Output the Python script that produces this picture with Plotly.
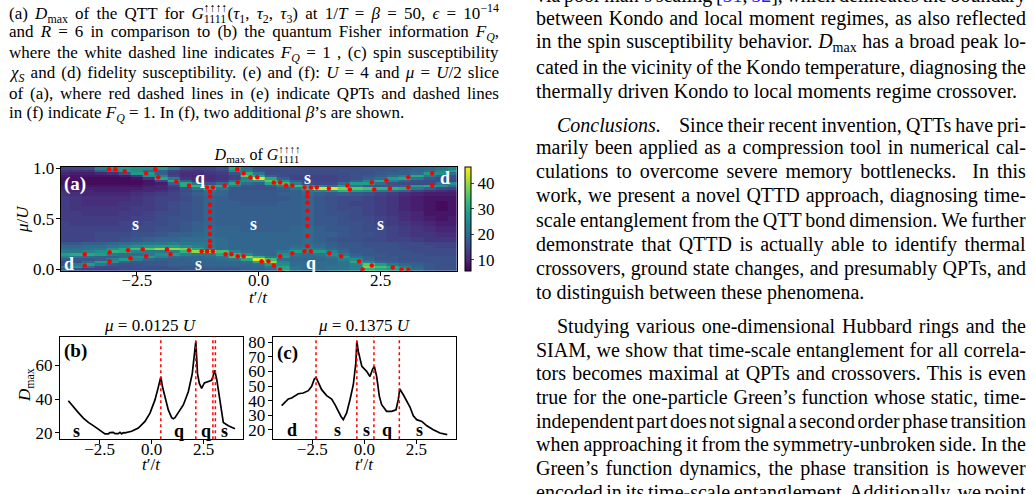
import json
import plotly.graph_objects as go

W, H = 1034, 494
SERIF = "Liberation Serif, Times New Roman, serif"

# ---------------- data: heatmap (a) ----------------
t_grid = [-4.0, -3.75, -3.5, -3.25, -3.0, -2.75, -2.5, -2.25, -2.0, -1.75, -1.5, -1.25, -1.0, -0.75, -0.5, -0.25,
          0.0, 0.25, 0.5, 0.75, 1.0, 1.25, 1.5, 1.75, 2.0, 2.25, 2.5, 2.75, 3.0, 3.25, 3.5, 3.75, 4.0]
mu_grid = [0.0, 0.025, 0.05, 0.075, 0.1, 0.125, 0.15, 0.175, 0.2, 0.225, 0.25,
           0.3, 0.35, 0.4, 0.45, 0.5, 0.55, 0.6, 0.65, 0.7,
           0.75, 0.775, 0.8, 0.825, 0.85, 0.875, 0.9, 0.925, 0.95, 0.975, 1.0]
# D_max rows listed from the top (mu = 1.0) down to mu = 0.0
z_rows_top_down = [
    [14,14,15,24,28,28,26,26,28,22,15,14,14,16,30,20,15,15,15,15,15,15,15,15,15,16,16,17,17,18,19,21,24],  # 1.000
    [12,11,11,18,22,28,26,20,18,14,12,12,13,14,26,22,16,15,15,15,15,15,15,16,16,16,17,17,18,19,20,24,28],  # 0.975
    [10,9,9,10,11,16,28,28,18,13,11,11,12,13,16,32,22,15,15,15,15,15,15,15,16,16,17,18,18,20,28,26,20],    # 0.950
    [9,8,8,8,8,9,12,26,24,14,11,10,11,12,14,36,30,18,15,14,14,14,14,15,16,17,18,20,24,30,22,18,16],        # 0.925
    [8,8,7,7,7,7,8,12,30,22,12,11,11,12,14,24,45,30,18,14,14,14,14,15,16,18,20,28,30,22,17,15,15],         # 0.900
    [8,7,7,7,7,7,7,8,14,30,18,12,12,13,20,26,28,36,26,18,15,14,14,15,18,24,30,24,18,16,15,15,14],          # 0.875
    [8,7,7,7,7,7,7,8,9,18,30,22,16,20,30,20,18,30,34,24,16,15,15,20,28,28,20,16,15,15,15,22,26],           # 0.850
    [9,8,8,8,8,8,8,9,10,14,30,32,30,30,22,17,16,18,24,33,30,24,20,28,22,18,17,17,18,28,30,26,20],          # 0.825
    [10,9,9,9,9,9,9,10,10,12,16,22,32,22,17,16,16,16,18,22,32,44,45,38,36,34,32,32,30,22,18,15,14],        # 0.800
    [11,10,10,9,9,9,10,10,11,13,15,17,22,19,17,17,17,17,17,18,22,24,26,32,28,26,22,20,18,14,12,11,10],     # 0.775
    [12,11,10,10,10,10,11,12,13,14,16,18,20,19,17,17,17,17,18,18,20,18,17,18,17,16,14,13,11,10,9,9,9],     # 0.750
    [13,12,11,11,11,11,12,13,14,14,15,17,19,18,17,17,17,17,17,18,19,17,16,15,15,14,13,12,10,9,8,8,8],      # 0.70
    [13,12,11,11,11,12,12,13,14,15,16,17,19,18,18,17,17,17,18,18,19,17,16,15,14,14,13,12,10,9,8,7,8],      # 0.65
    [13,12,12,12,12,12,13,13,14,15,16,17,19,18,18,18,18,18,18,18,19,17,16,15,15,14,13,12,10,9,8,7,8],      # 0.60
    [13,13,12,12,12,13,13,14,15,15,16,17,19,18,18,18,18,18,18,18,19,17,16,16,15,14,13,12,11,10,8,8,8],     # 0.55
    [13,13,13,13,13,13,14,14,15,16,16,17,19,18,18,18,18,18,18,18,19,17,17,16,15,15,14,13,11,10,9,8,9],     # 0.50
    [14,13,13,13,13,14,14,15,15,16,17,18,19,18,18,18,18,18,18,18,19,17,17,16,16,15,14,13,12,11,10,9,9],    # 0.45
    [14,14,14,14,14,14,15,15,16,16,17,18,20,19,19,18,18,18,18,19,20,18,17,17,16,15,15,14,13,12,11,10,10],  # 0.40
    [14,14,14,15,15,15,16,16,17,18,18,19,20,19,19,19,19,19,19,19,20,18,18,17,16,16,15,14,13,12,12,11,11],  # 0.35
    [14,14,14,15,15,16,17,18,19,19,20,20,21,20,19,19,19,19,19,19,20,18,17,16,16,15,15,14,14,13,12,12,12],  # 0.30
    [17,17,18,18,19,20,21,22,22,23,22,22,22,20,19,19,19,19,19,19,20,19,18,17,17,16,16,16,15,15,14,14,14],  # 0.250
    [19,19,20,20,22,24,26,27,28,28,26,24,22,20,19,19,19,19,19,20,21,20,18,17,17,16,16,16,15,15,15,14,14],  # 0.225
    [20,20,21,22,26,30,34,36,40,40,38,30,24,20,19,19,19,19,19,22,24,22,19,18,17,17,16,16,15,15,15,15,15],  # 0.200
    [22,22,24,26,32,30,24,22,22,24,32,40,40,34,24,20,19,19,22,28,27,28,24,19,17,17,16,16,16,15,15,15,15],  # 0.175
    [28,30,30,28,22,20,20,22,26,28,24,22,22,30,32,26,20,19,26,22,20,21,26,22,18,17,17,16,16,16,15,15,15],  # 0.150
    [24,22,20,18,18,20,26,28,24,20,19,19,20,22,34,40,32,22,28,20,20,20,22,28,20,18,17,17,16,16,16,16,16],  # 0.125
    [18,17,17,18,24,28,24,19,18,18,18,19,19,20,22,30,45,34,20,19,19,19,20,24,26,19,17,17,16,16,16,16,16],  # 0.100
    [15,16,20,28,26,19,17,17,17,18,18,19,19,19,19,20,30,40,24,20,20,20,20,21,30,24,19,18,17,17,16,16,16],  # 0.075
    [16,22,28,22,17,16,16,17,17,18,18,18,19,19,19,19,20,28,26,20,20,20,20,21,24,36,28,22,19,18,17,16,16],  # 0.050
    [24,26,20,15,15,15,16,16,16,17,17,17,18,18,18,18,19,22,30,21,20,20,21,21,24,38,34,30,24,19,17,16,16],  # 0.025
    [18,16,14,14,14,15,15,16,16,16,17,17,17,17,17,18,18,20,30,22,20,20,21,22,24,32,30,28,28,20,17,16,16],  # 0.000
]
z_grid = z_rows_top_down[::-1]

# transition points (red dots) in (a)
dots_t = [-3.07,-2.94,-2.75,-2.31,-2.12,-2.06,-1.69,-1.43,-1.06,-0.94,-0.70,-0.44,-0.43,-0.31,-0.17,-0.03,
          0.31,0.44,0.56,0.69,0.94,1.07,1.19,1.44,1.82,1.87,2.32,2.37,2.62,2.69,3.07,3.07,3.56,3.56,
          -3.57,-3.57,-3.06,-3.06,-2.68,-2.63,-2.38,-2.31,-1.88,-1.81,-1.43,-1.17,-1.06,-0.94,-0.68,-0.56,-0.43,-0.31,
          0.06,0.20,0.31,0.44,0.44,0.69,0.94,1.07,1.45,1.69,2.06,2.13,2.32,2.75,2.93,3.07,
          -1.0,-1.0,-1.0,-1.0,-1.0,-1.0,-1.0,-1.0,-1.0,
          1.0,1.0,1.0,1.0,1.0,1.0,1.0,1.0]
dots_mu = [0.99,0.99,0.97,0.95,0.99,0.91,0.87,0.83,0.81,0.81,0.83,0.99,0.86,0.95,0.91,0.91,
           0.86,0.86,0.83,0.83,0.81,0.81,0.81,0.80,0.83,0.79,0.86,0.79,0.88,0.80,0.91,0.81,0.95,0.83,
           0.15,0.04,0.17,0.08,0.19,0.11,0.20,0.13,0.20,0.15,0.19,0.18,0.18,0.18,0.15,0.15,0.13,0.13,
           0.08,0.08,0.04,0.00,0.13,0.16,0.18,0.18,0.16,0.13,0.08,0.00,0.04,0.02,0.00,0.00,
           0.23,0.28,0.35,0.42,0.50,0.57,0.64,0.72,0.77,
           0.23,0.33,0.43,0.50,0.58,0.66,0.72,0.76]

# ---------------- data: slice (b) mu = 0.0125U ----------------
t_b = [-4.0,-3.84,-3.68,-3.52,-3.28,-3.04,-2.80,-2.56,-2.40,-2.24,-2.08,-2.00,-1.84,-1.76,-1.60,-1.52,-1.44,
       -1.36,-1.28,-1.20,-0.96,-0.64,-0.32,-0.08,0.16,0.32,0.44,0.52,0.64,0.80,0.96,1.04,1.12,1.28,1.52,
       1.76,1.95,2.12,2.20,2.29,2.40,2.53,2.72,2.88,2.96,3.02,3.12,3.28,3.44,3.68,4.00]
D_b = [39,36.5,34.6,32,28.8,26.2,24.3,22.3,20.5,19.4,19.5,20.2,20.3,19.6,19.6,20.4,19.5,
       20.2,20,20.2,21,22.9,26.8,31.7,39.5,47,53,47.2,41.4,33.6,29,28.4,29,31.7,36.5,
       44.3,55,74,55,49.2,46.3,49.5,50.2,51,54,57,52,37.5,26.2,24.3,22.5]
qpt_b = [0.44, 2.12, 2.94, 3.06]
labels_b = ["s", "q", "q", "s"]
labels_b_t = [-3.6, 1.31, 2.6, 3.52]

# ---------------- data: slice (c) mu = 0.1375U ----------------
t_c = [-3.97,-3.81,-3.65,-3.49,-3.33,-3.17,-2.93,-2.69,-2.53,-2.40,-2.32,-2.21,-2.05,-1.81,-1.57,-1.41,
       -1.25,-1.12,-1.01,-0.85,-0.69,-0.53,-0.41,-0.36,-0.29,-0.12,0.11,0.27,0.40,0.48,0.59,0.72,0.83,
       1.07,1.31,1.52,1.63,1.70,1.87,2.03,2.19,2.35,2.51,2.76,3.00,3.31,3.63,3.98]
D_c = [36.5,38.8,41.1,41.8,43.4,44.7,45.2,46.8,49.8,54.8,55.9,52.1,47.5,43.4,41.1,37.2,
       32.6,29.1,26.9,31.5,40.6,50.9,65.8,80.7,73.8,63.5,60.1,56.6,61.7,63.5,56.6,42.9,37.2,
       32.6,32.6,33.7,40.6,48,44,39.5,35.6,29.6,26.9,25.7,22.7,20,17.7,16.6]
qpt_c = [-2.32, -0.36, 0.46, 1.68]
labels_c = ["d", "s", "s", "q", "s"]
labels_c_t = [-3.49, -1.28, 0.08, 1.07, 2.64]

# ---------------- text ----------------
caption_lines = [
    "(a) <i>D</i><sub>max</sub> of the QTT for <i>G</i><sup>↑↑↑↑</sup><sub>1111</sub>(<i>τ</i><sub>1</sub>, <i>τ</i><sub>2</sub>, <i>τ</i><sub>3</sub>) at 1/<i>T</i> = <i>β</i> = 50, <i>ϵ</i> = 10<sup>−14</sup>",
    "and <i>R</i> = 6 in comparison to (b) the quantum Fisher information <i>F</i><sub><i>Q</i></sub>,",
    "where the white dashed line indicates <i>F</i><sub><i>Q</i></sub> = 1 , (c) spin susceptibility",
    "<i>χ</i><sub><i>S</i></sub> and (d) fidelity susceptibility. (e) and (f): <i>U</i> = 4 and <i>μ</i> = <i>U</i>/2 slice",
    "of (a), where red dashed lines in (e) indicate QPTs and dashed lines",
    "in (f) indicate <i>F</i><sub><i>Q</i></sub> = 1. In (f), two additional <i>β</i>’s are shown.",
]
caption_y = [13.5, 33.5, 53.5, 73.5, 93.5, 113.5]
caption_just = [True, True, True, True, True, False]

B = '<span style="color:#1a1aff">'
right_lines = [
    ("via poor man’s scaling [" + B + "51</span>, " + B + "52</span>], which delineates the boundary", -5, 535, True),
    ("between Kondo and local moment regimes, as also reflected", 19, 535, True),
    ("in the spin susceptibility behavior. <i>D</i><sub>max</sub> has a broad peak lo-", 43, 535, True),
    ("cated in the vicinity of the Kondo temperature, diagnosing the", 67, 535, True),
    ("thermally driven Kondo to local moments regime crossover.", 91, 535, False),
    ("Since their recent invention, QTTs have pri-", 125, 678, True),
    ("marily been applied as a compression tool in numerical cal-", 148, 535, True),
    ("culations to overcome severe memory bottlenecks.  In this", 172, 535, True),
    ("work, we present a novel QTTD approach, diagnosing time-", 196, 535, True),
    ("scale entanglement from the QTT bond dimension. We further", 220, 535, True),
    ("demonstrate that QTTD is actually able to identify thermal", 244, 535, True),
    ("crossovers, ground state changes, and presumably QPTs, and", 268, 535, True),
    ("to distinguish between these phenomena.", 292, 535, False),
    ("Studying various one-dimensional Hubbard rings and the", 326, 556, True),
    ("SIAM, we show that time-scale entanglement for all correla-", 350, 535, True),
    ("tors becomes maximal at QPTs and crossovers. This is even", 373, 535, True),
    ("true for the one-particle Green’s function whose static, time-", 397, 535, True),
    ("independent part does not signal a second order phase transition", 421, 535, True),
    ("when approaching it from the symmetry-unbroken side. In the", 444, 535, True),
    ("Green’s function dynamics, the phase transition is however", 468, 535, True),
    ("encoded in its time-scale entanglement. Additionally, we point", 492, 535, True),
]


def px(x):
    return x / W


def py(y):
    return 1 - y / H


fig = go.Figure()

cb_top, cb_bot = 167.0, 270.7
fig.add_trace(go.Heatmap(
    x=t_grid, y=mu_grid, z=z_grid, colorscale="Viridis", zmin=5.7, zmax=46.5,
    xaxis="x", yaxis="y",
    colorbar=dict(
        x=px(465), xanchor="left", xref="paper", thickness=5.5, thicknessmode="pixels",
        len=(cb_bot - cb_top) / H, lenmode="fraction", y=py((cb_top + cb_bot) / 2), yanchor="middle",
        xpad=0, ypad=0, outlinewidth=1, outlinecolor="black",
        tickvals=[10, 20, 30, 40], ticks="outside", ticklen=3, tickwidth=1,
        tickfont=dict(family=SERIF, size=17, color="black"),
    ),
    showscale=True,
))
fig.add_trace(go.Scatter(x=dots_t, y=dots_mu, mode="markers", xaxis="x", yaxis="y",
                         marker=dict(color="#ff0000", size=4.5), showlegend=False))
fig.add_trace(go.Scatter(x=t_b, y=D_b, mode="lines", xaxis="x2", yaxis="y2",
                         line=dict(color="black", width=1.7), showlegend=False))
fig.add_trace(go.Scatter(x=t_c, y=D_c, mode="lines", xaxis="x3", yaxis="y3",
                         line=dict(color="black", width=1.7), showlegend=False))

axis_common = dict(showline=True, mirror=True, linecolor="black", linewidth=1, ticks="outside",
                   ticklen=4, tickwidth=1, tickcolor="black", showgrid=False, zeroline=False,
                   tickfont=dict(family=SERIF, size=17, color="black"), automargin=False)
xstand = dict(ticklabelstandoff=-10)
ystand = dict(ticklabelstandoff=-1)
tv = [-2.5, 0, 2.5]
tt = ["−2.5", "0.0", "2.5"]
fig.update_layout(
    width=W, height=H, margin=dict(l=0, r=0, t=0, b=0),
    paper_bgcolor="white", plot_bgcolor="white", showlegend=False,
    xaxis=dict(domain=[px(60.7), px(456.7)], range=[-4.0625, 4.0625], tickvals=tv, ticktext=tt,
               anchor="y", **axis_common, **xstand),
    yaxis=dict(domain=[py(270.7), py(167.0)], range=[-0.0125, 1.0125], tickvals=[0, 0.5, 1],
               ticktext=["0.0", "0.5", "1.0"], anchor="x", **axis_common, ticklabelstandoff=-2),
    xaxis2=dict(domain=[px(60), px(243.3)], range=[-4.4, 4.4], tickvals=tv, ticktext=tt,
                anchor="y2", **axis_common, **xstand),
    yaxis2=dict(domain=[py(439.3), py(336.7)], range=[16.25, 76.75], tickvals=[20, 40, 60],
                anchor="x2", **axis_common, **ystand),
    xaxis3=dict(domain=[px(272.7), px(456)], range=[-4.4, 4.4], tickvals=tv, ticktext=tt,
                anchor="y3", **axis_common, **xstand),
    yaxis3=dict(domain=[py(439.3), py(336.7)], range=[13.4, 83.9], tickvals=[20, 30, 40, 50, 60, 70, 80],
                anchor="x3", **axis_common, **ystand),
)

shapes = []
for v in qpt_b:
    shapes.append(dict(type="line", xref="x2", yref="y2 domain", x0=v, x1=v, y0=0, y1=1,
                       line=dict(color="#ff0000", width=1.5, dash="dot")))
for v in qpt_c:
    shapes.append(dict(type="line", xref="x3", yref="y3 domain", x0=v, x1=v, y0=0, y1=1,
                       line=dict(color="#ff0000", width=1.5, dash="dot")))
fig.update_layout(shapes=shapes)

ann = []
justify = []


def text(x, y, s, size, anchor="left", color="black", angle=0, align="left", family=SERIF):
    ann.append(dict(xref="paper", yref="paper", x=px(x), y=py(y), text=s, showarrow=False,
                    xanchor=anchor, yanchor="middle", align=align, textangle=angle,
                    font=dict(family=family, size=size, color=color), borderpad=0))
    return len(ann) - 1


# caption (left column)
for s, y, j in zip(caption_lines, caption_y, caption_just):
    i = text(8, y, s, 17)
    if j:
        justify.append([i, 490])

# right column
text(556, 125, "<i>Conclusions.</i>", 20)
for s, y, x0, j in right_lines:
    i = text(x0, y, s, 20)
    if j:
        justify.append([i, 1025 - x0])

# panel (a) texts
text(257, 154, "<i>D</i><sub>max</sub> of <i>G</i><sup>↑↑↑↑</sup><sub>1111</sub>", 16, anchor="center", align="center")
text(258, 297, "<i>t</i>′/<i>t</i>", 17, anchor="center", align="center")
text(22, 219, "<i>μ</i>/<i>U</i>", 17, anchor="center", align="center", angle=-90)
text(63, 184, "<b>(a)</b>", 19, color="white")

# region labels inside heatmap (data coordinates)
reg_lab = ["q", "s", "d", "s", "s", "s", "d", "s", "q"]
reg_t = [-1.2, 1.01, 3.82, -2.52, -0.1, 2.5, -3.89, -1.24, 1.07]
reg_mu = [0.90, 0.90, 0.90, 0.45, 0.45, 0.45, 0.05, 0.05, 0.06]
for s, xx, yy in zip(reg_lab, reg_t, reg_mu):
    ann.append(dict(xref="x", yref="y", x=xx, y=yy, text="<b>" + s + "</b>", showarrow=False,
                    xanchor="center", yanchor="middle",
                    font=dict(family=SERIF, size=18, color="white")))

# panel (b)
text(150, 325, "<i>μ</i> = 0.0125 <i>U</i>", 17, anchor="center", align="center")
text(151, 464, "<i>t</i>′/<i>t</i>", 17, anchor="center", align="center")
text(26, 385, "<i>D</i><sub>max</sub>", 17, anchor="center", align="center", angle=-90)
text(63, 351, "<b>(b)</b>", 19)
for s, xx in zip(labels_b, labels_b_t):
    ann.append(dict(xref="x2", yref="y2", x=xx, y=21.2, text="<b>" + s + "</b>", showarrow=False,
                    xanchor="center", yanchor="middle", font=dict(family=SERIF, size=18, color="black")))

# panel (c)
text(364, 325, "<i>μ</i> = 0.1375 <i>U</i>", 17, anchor="center", align="center")
text(364, 464, "<i>t</i>′/<i>t</i>", 17, anchor="center", align="center")
text(276, 353, "<b>(c)</b>", 19)
for s, xx in zip(labels_c, labels_c_t):
    ann.append(dict(xref="x3", yref="y3", x=xx, y=20.0, text="<b>" + s + "</b>", showarrow=False,
                    xanchor="center", yanchor="middle", font=dict(family=SERIF, size=18, color="black")))

fig.update_layout(annotations=ann)

post = """
(function(){
var gd = document.getElementById('{plot_id}');
var J = %s;
function stackScripts(){
  var texts = gd.querySelectorAll('text');
  texts.forEach(function(t){
    var ts = t.querySelectorAll('tspan');
    for (var i=0;i<ts.length;i++){
      if (ts[i].textContent.indexOf('\\u2191')>=0){
        for (var k=i+1;k<ts.length && k<i+4;k++){
          if (ts[k].textContent==='1111'){
            var wa = ts[i].getComputedTextLength();
            var wb = ts[k].getComputedTextLength();
            ts[k].setAttribute('dx', String(-wa));
            if (k+1<ts.length && wa>wb) ts[k+1].setAttribute('dx', String(wa-wb));
            break;
          }
        }
      }
    }
  });
}
function justify(){
  J.forEach(function(p){
    var g = gd.querySelector('g.annotation[data-index="'+p[0]+'"]');
    if(!g) return;
    var t = g.querySelector('text.annotation-text');
    if(!t) return;
    t.style.wordSpacing='0px';
    var w = t.getBBox().width;
    var n = (t.textContent.match(/ /g)||[]).length;
    if(n>0) t.style.wordSpacing = ((p[1]-w)/n)+'px';
  });
}
try { stackScripts(); } catch(e) {}
try { justify(); } catch(e) {}
})();
""" % json.dumps(justify)

fig.write_html("out.html", include_plotlyjs=True, post_script=post)
